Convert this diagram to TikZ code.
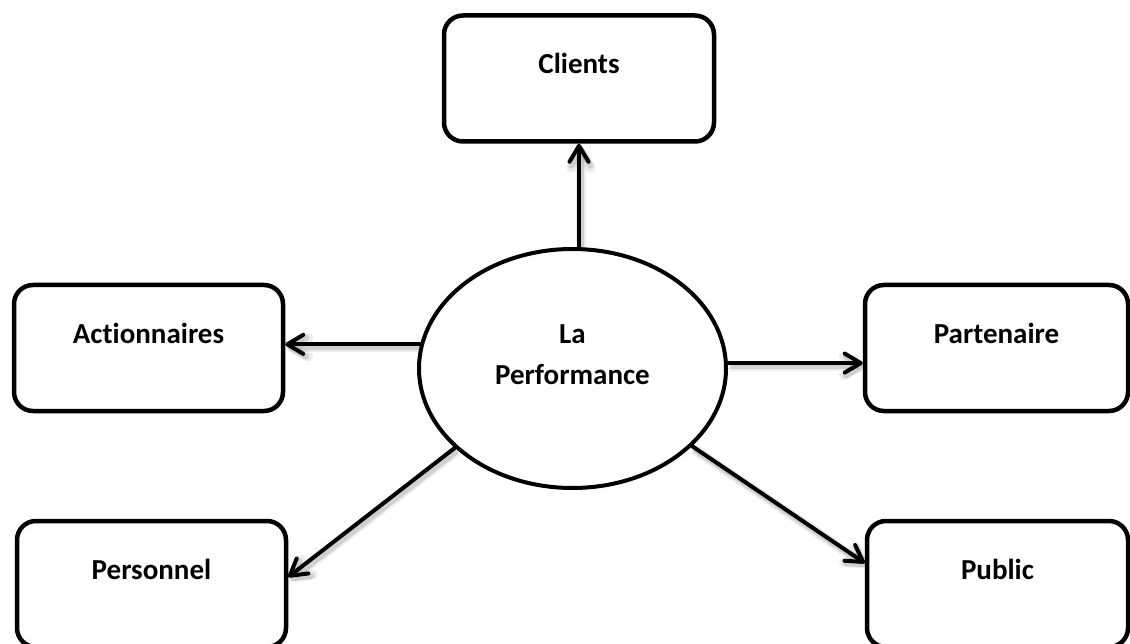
\documentclass[tikz,border=0pt]{standalone}
\usepackage{fontspec}
\setmainfont{Carlito}[RawFeature=-liga]
\usetikzlibrary{shapes.geometric,arrows.meta,calc}

\tikzset{
  lbl/.style={font=\fontsize{29}{41}\selectfont\bfseries},
  stakebox/.style={draw, line width=4.5pt, rounded corners=19pt, lbl,
    minimum height=126pt, inner sep=0pt, text height=20pt, text depth=29pt},
  hub/.style={draw, ellipse, line width=4pt, inner sep=0pt,
    minimum width=307pt, minimum height=239pt},
  hubtext/.style={lbl, align=center, inner sep=0pt},
  link/.style={line width=4pt, line cap=round,
    -{Straight Barb[length=16pt, width=19pt, round]},
    preaction={draw=black, opacity=0.07, line width=10pt,
      transform canvas={xshift=2pt, yshift=-3pt}},
    preaction={draw=black, opacity=0.12, line width=6pt,
      transform canvas={xshift=2pt, yshift=-3pt}}}
}

\begin{document}
\begin{tikzpicture}[x=1pt, y=-1pt]
  \useasboundingbox (0,0) rectangle (1130,644);
  \clip (0,0) rectangle (1130,644);
  \fill[white] (0,0) rectangle (1130,644);

  % central ellipse and its two-line title
  \node[hub] (perf) at (572.5,368.5) {};
  \node[hubtext] (perftext) at ([yshift=14pt]perf.center) {La\\Performance};

  % stakeholder boxes
  \node[stakebox, minimum width=270pt] (clients) at (579,78.5) {Clients};
  \node[stakebox, minimum width=269pt] (act) at (148.5,348) {Actionnaires};
  \node[stakebox, minimum width=263pt] (part) at (996.5,348) {Partenaire};
  \node[stakebox, minimum width=269pt] (pers) at (151.5,584) {Personnel};
  \node[stakebox, minimum width=261pt] (pub) at (997.5,584) {Public};

  % connectors
  \draw[link] (clients.south |- perf.north) -- (clients.south);
  \draw[link] (perf.171) -- (perf.171 -| act.east);
  \draw[link] (perf.2) -- (perf.2 -| part.west);
  \draw[link] (perf.214) -- ([yshift=7pt]pers.east);
  \draw[link] (perf.327) -- ([yshift=21pt]pub.west);
\end{tikzpicture}
\end{document}
